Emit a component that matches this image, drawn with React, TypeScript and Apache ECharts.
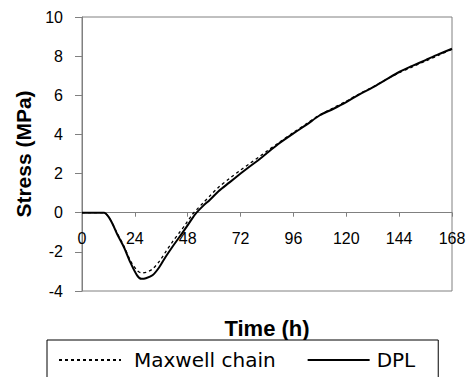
import React, { useEffect, useRef } from "react";
import * as echarts from "echarts";

const times = [0, 5, 10, 12, 14, 16, 19, 22, 25, 27, 29, 32, 35, 38, 41, 44, 47, 50, 52, 55, 58, 62, 67, 72, 76, 81, 84, 89, 96, 102, 108, 114, 120, 126, 132, 138, 144, 150, 156, 162, 168];
const dpl = [0, 0, 0, -0.2, -0.6, -1.1, -1.75, -2.55, -3.2, -3.38, -3.35, -3.2, -2.8, -2.25, -1.75, -1.28, -0.8, -0.3, 0, 0.35, 0.65, 1.1, 1.55, 2.0, 2.35, 2.77, 3.05, 3.5, 4.05, 4.5, 4.98, 5.3, 5.65, 6.05, 6.4, 6.8, 7.19, 7.5, 7.8, 8.1, 8.38];
const maxwell = [0, 0, 0, -0.2, -0.6, -1.05, -1.7, -2.45, -2.95, -3.07, -3.05, -2.88, -2.5, -2.0, -1.5, -1.05, -0.6, -0.1, 0.15, 0.5, 0.85, 1.3, 1.75, 2.18, 2.5, 2.9, 3.15, 3.55, 4.1, 4.55, 5.0, 5.35, 5.7, 6.08, 6.42, 6.8, 7.15, 7.45, 7.75, 8.05, 8.35];
const seriesNames = ["Maxwell chain", "DPL"];
const xTitle = "Time (h)";
const yTitle = "Stress (MPa)";

const Y_MIN = -4;
const Y_MAX = 10;
const GRID_TOP = 17;
const GRID_BOTTOM = 86;
const H = 377;

export default function App() {
  const ref = useRef<HTMLDivElement>(null);
  useEffect(() => {
    if (!ref.current) return;
    const chart = echarts.init(ref.current, undefined, { renderer: "svg" });
    const font = "Liberation Sans, Arial, sans-serif";
    const legendFont = "DejaVu Sans, sans-serif";
    const plotH = H - GRID_TOP - GRID_BOTTOM;
    const zeroOffset = -(plotH * (0 - Y_MIN)) / (Y_MAX - Y_MIN);
    chart.setOption({
      animation: false,
      backgroundColor: "#fff",
      grid: {
        left: 82,
        right: 17,
        top: GRID_TOP,
        bottom: GRID_BOTTOM,
        outerBoundsMode: "none",
        containLabel: false,
        show: true,
        borderColor: "#808080",
        borderWidth: 1,
      },
      xAxis: {
        type: "value",
        min: 0,
        max: 168,
        interval: 24,
        offset: zeroOffset,
        name: xTitle,
        nameLocation: "middle",
        nameGap: 105,
        nameTextStyle: { fontFamily: font, fontSize: 22, fontWeight: "bold", color: "#000" },
        axisLine: { onZero: false, lineStyle: { color: "#808080", width: 1 } },
        axisTick: { show: true, inside: false, length: 4, lineStyle: { color: "#808080" } },
        axisLabel: { fontFamily: font, fontSize: 16, color: "#000", margin: 18 },
        splitLine: { show: false },
      },
      yAxis: {
        type: "value",
        min: Y_MIN,
        max: Y_MAX,
        interval: 2,
        name: yTitle,
        nameLocation: "middle",
        nameGap: 45,
        nameTextStyle: { fontFamily: font, fontSize: 21, fontWeight: "bold", color: "#000" },
        axisLine: { show: true, onZero: false, lineStyle: { color: "#808080", width: 1 } },
        axisTick: { show: true, length: 7, lineStyle: { color: "#808080" } },
        axisLabel: { fontFamily: font, fontSize: 16, color: "#000", margin: 19 },
        splitLine: { show: false },
      },
      legend: {
        left: 47,
        top: 340,
        orient: "horizontal",
        padding: [10, 23, 10, 11],
        itemWidth: 62,
        itemHeight: 14,
        itemGap: 31,
        borderColor: "#000",
        borderWidth: 1,
        borderRadius: 0,
        backgroundColor: "#fff",
        itemStyle: { opacity: 0 },
        textStyle: { fontFamily: legendFont, fontSize: 20, color: "#000" },
        data: [
          { name: seriesNames[0], textStyle: { padding: [0, 0, 0, 8] } },
          { name: seriesNames[1], textStyle: { padding: [0, 0, 0, 2] } },
        ],
      },
      series: [
        {
          name: seriesNames[0],
          type: "line",
          data: times.map((t, i) => [t, maxwell[i]]),
          symbol: "none",
          smooth: 0.3,
          lineStyle: { color: "#000", width: 1.3, type: [3, 3] },
          itemStyle: { color: "#000" },
        },
        {
          name: seriesNames[1],
          type: "line",
          data: times.map((t, i) => [t, dpl[i]]),
          symbol: "none",
          smooth: 0.3,
          lineStyle: { color: "#000", width: 2 },
          itemStyle: { color: "#000" },
        },
      ],
    });
    return () => chart.dispose();
  }, []);
  return <div ref={ref} style={{ width: 469, height: 377, position: "absolute", left: 0, top: 0 }} />;
}
